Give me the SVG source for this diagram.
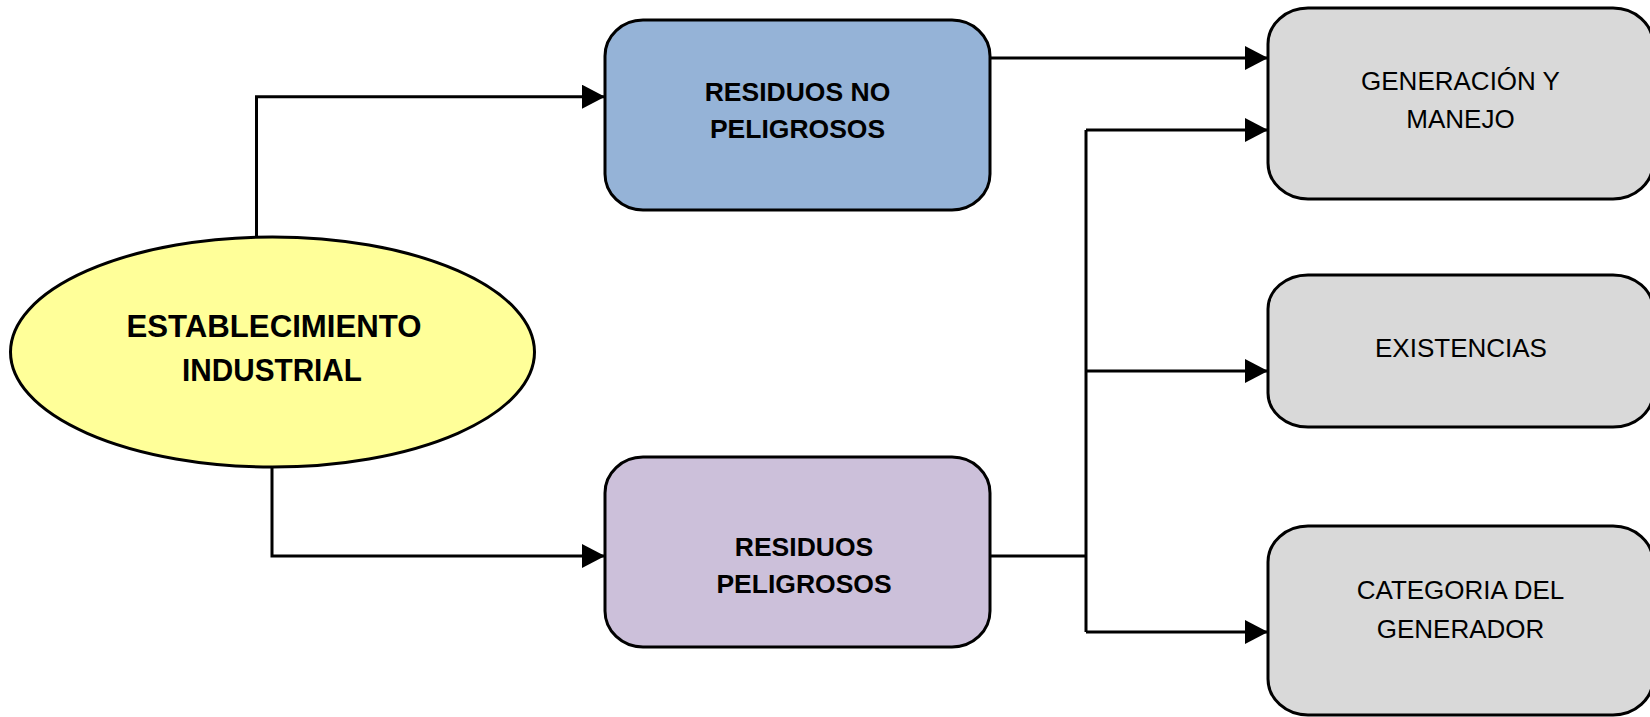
<svg xmlns="http://www.w3.org/2000/svg" width="1650" height="717" viewBox="0 0 1650 717">
<style>
.shape{stroke:#000;stroke-width:3}
.conn{fill:none;stroke:#000;stroke-width:3}
.bold{font-family:"Liberation Sans",Arial,sans-serif;font-weight:bold;font-size:26.5px;fill:#000;text-anchor:middle}
.big{font-size:31.5px}
.reg{font-family:"Liberation Sans",Arial,sans-serif;font-size:26px;fill:#000;text-anchor:middle}
</style>
<defs>
<marker id="arr" markerUnits="userSpaceOnUse" markerWidth="24" markerHeight="26" refX="23" refY="12" orient="auto">
<path d="M0,0 L23,12 L0,24 Z" fill="#000"/>
</marker>
</defs>
<rect width="1650" height="717" fill="#fff"/>
<g id="connectors">
<path class="conn" d="M256.5,237 V96.7 H605" marker-end="url(#arr)"/>
<path class="conn" d="M272,467 V556 H605" marker-end="url(#arr)"/>
<path class="conn" d="M990,58 H1268" marker-end="url(#arr)"/>
<path class="conn" d="M990,556 H1086"/>
<path class="conn" d="M1086,130 V632"/>
<path class="conn" d="M1086,130 H1268" marker-end="url(#arr)"/>
<path class="conn" d="M1086,371 H1268" marker-end="url(#arr)"/>
<path class="conn" d="M1086,632 H1268" marker-end="url(#arr)"/>
</g>
<g id="establecimiento">
<ellipse class="shape" cx="272.5" cy="352" rx="262" ry="115" fill="#FFFF99"/>
<text class="bold big" x="274" y="336.7" textLength="295" lengthAdjust="spacingAndGlyphs">ESTABLECIMIENTO</text>
<text class="bold big" x="272" y="380.7" textLength="180" lengthAdjust="spacingAndGlyphs">INDUSTRIAL</text>
</g>
<g id="no-peligrosos">
<rect class="shape" x="605" y="20" width="385" height="190" rx="38" ry="36" fill="#95B3D7"/>
<text class="bold" x="797.5" y="100.7">RESIDUOS NO</text>
<text class="bold" x="797.5" y="138.3">PELIGROSOS</text>
</g>
<g id="peligrosos">
<rect class="shape" x="605" y="457" width="385" height="190" rx="38" ry="36" fill="#CCC0DA"/>
<text class="bold" x="804" y="556">RESIDUOS</text>
<text class="bold" x="804" y="593">PELIGROSOS</text>
</g>
<g id="generacion">
<rect class="shape" x="1268" y="8" width="385" height="191" rx="40" ry="36" fill="#D9D9D9"/>
<text class="reg" x="1460.5" y="90">GENERACIÓN Y</text>
<text class="reg" x="1460.5" y="128">MANEJO</text>
</g>
<g id="existencias">
<rect class="shape" x="1268" y="275" width="385" height="152" rx="40" ry="34" fill="#D9D9D9"/>
<text class="reg" x="1461" y="356.7">EXISTENCIAS</text>
</g>
<g id="categoria">
<rect class="shape" x="1268" y="526" width="385" height="189" rx="40" ry="36" fill="#D9D9D9"/>
<text class="reg" x="1460.5" y="599">CATEGORIA DEL</text>
<text class="reg" x="1460.5" y="637.7">GENERADOR</text>
</g>
</svg>
